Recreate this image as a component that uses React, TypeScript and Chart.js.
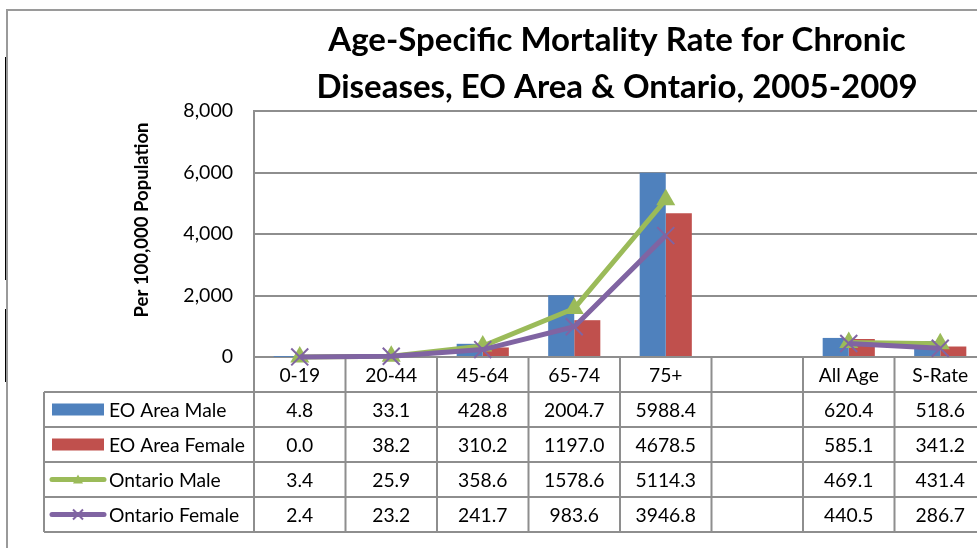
import React, { useEffect, useRef } from 'react';
import { Chart, registerables } from 'chart.js';

Chart.register(...registerables);

const titleLines = ['Age-Specific Mortality Rate for Chronic', 'Diseases, EO Area & Ontario, 2005-2009'];
const yAxisTitle = 'Per 100,000 Population';
const categories = ['0-19', '20-44', '45-64', '65-74', '75+', '', 'All Age', 'S-Rate'];
const eoMale = [4.8, 33.1, 428.8, 2004.7, 5988.4, null, 620.4, 518.6];
const eoFemale = [0.0, 38.2, 310.2, 1197.0, 4678.5, null, 585.1, 341.2];
const ontarioMale = [3.4, 25.9, 358.6, 1578.6, 5114.3, null, 469.1, 431.4];
const ontarioFemale = [2.4, 23.2, 241.7, 983.6, 3946.8, null, 440.5, 286.7];
const seriesNames = ['EO Area Male', 'EO Area Female', 'Ontario Male', 'Ontario Female'];
const yMin = 0;
const yMax = 8000;
const yStep = 2000;

const BLUE = '#4F81BD';
const RED = '#C0504D';
const GREEN = '#9BBB59';
const PURPLE = '#8064A2';
const GRID = '#8e8e8e';
const FONT = 'Lato, Carlito, Calibri, sans-serif';

const seriesData = [eoMale, eoFemale, ontarioMale, ontarioFemale];

function drawTriangle(ctx: CanvasRenderingContext2D, x: number, y: number, r: number, color: string) {
  ctx.beginPath();
  ctx.moveTo(x, y - r);
  ctx.lineTo(x + r, y + r * 0.8);
  ctx.lineTo(x - r, y + r * 0.8);
  ctx.closePath();
  ctx.fillStyle = color;
  ctx.fill();
}

function drawCross(ctx: CanvasRenderingContext2D, x: number, y: number, r: number, color: string) {
  ctx.beginPath();
  ctx.moveTo(x - r, y - r);
  ctx.lineTo(x + r, y + r);
  ctx.moveTo(x + r, y - r);
  ctx.lineTo(x - r, y + r);
  ctx.strokeStyle = color;
  ctx.lineWidth = 2;
  ctx.stroke();
}

const tablePlugin = {
  id: 'excelTable',
  beforeDatasetsDraw(chart: any) {
    const { ctx, chartArea } = chart;
    const n = categories.length;
    const colW = (chartArea.right - chartArea.left) / n;
    const top = chartArea.bottom;
    const rowH = 35;
    const tableLeft = 44;
    const nRows = seriesNames.length;
    const bottom = top + rowH * (nRows + 1);
    ctx.save();

    // outer frame artifacts
    ctx.strokeStyle = '#9a9a9a';
    ctx.lineWidth = 2;
    ctx.beginPath();
    ctx.moveTo(6, 10);
    ctx.lineTo(chart.width, 10);
    ctx.moveTo(7, 10);
    ctx.lineTo(7, chart.height);
    ctx.stroke();
    ctx.strokeStyle = '#000';
    ctx.lineWidth = 1;
    ctx.beginPath();
    ctx.moveTo(5.5, 57);
    ctx.lineTo(5.5, 280);
    ctx.moveTo(5.5, 309);
    ctx.lineTo(5.5, 382);
    ctx.stroke();

    // title
    ctx.fillStyle = '#000';
    ctx.font = `bold 33px ${FONT}`;
    ctx.textAlign = 'center';
    ctx.textBaseline = 'alphabetic';
    ctx.fillText(titleLines[0], 617, 51);
    ctx.fillText(titleLines[1], 617, 98);

    // y title
    ctx.save();
    ctx.translate(142, 220);
    ctx.rotate(-Math.PI / 2);
    ctx.font = `bold 18.5px ${FONT}`;
    ctx.textBaseline = 'middle';
    ctx.fillText(yAxisTitle, 0, 0);
    ctx.restore();

    // table grid
    ctx.strokeStyle = GRID;
    ctx.lineWidth = 2;
    ctx.beginPath();
    for (let r = 0; r <= nRows + 1; r++) {
      const y = top + r * rowH;
      ctx.moveTo(r === 0 ? chartArea.left : tableLeft, y);
      ctx.lineTo(chartArea.right, y);
    }
    ctx.moveTo(tableLeft, top + rowH);
    ctx.lineTo(tableLeft, bottom);
    for (let c = 0; c <= n; c++) {
      const x = chartArea.left + c * colW;
      ctx.moveTo(x, top);
      ctx.lineTo(x, bottom);
    }
    ctx.stroke();

    // text
    ctx.fillStyle = '#000';
    ctx.font = `19.3px ${FONT}`;
    ctx.textBaseline = 'middle';
    ctx.textAlign = 'center';
    categories.forEach((cat, i) => {
      const cx = chartArea.left + (i + 0.5) * colW;
      ctx.fillText(cat, cx, top + rowH / 2 + 1);
    });
    seriesData.forEach((vals, r) => {
      const cy = top + (r + 1.5) * rowH + 1;
      vals.forEach((v, i) => {
        if (v === null) return;
        const cx = chartArea.left + (i + 0.5) * colW;
        ctx.fillText(v.toFixed(1), cx, cy);
      });
    });

    // legend keys
    ctx.textAlign = 'left';
    seriesNames.forEach((name, r) => {
      const cy = top + (r + 1.5) * rowH;
      if (r < 2) {
        ctx.fillStyle = r === 0 ? BLUE : RED;
        ctx.fillRect(52, cy - 6, 52, 12);
      } else {
        const color = r === 2 ? GREEN : PURPLE;
        ctx.strokeStyle = color;
        ctx.lineWidth = 5;
        ctx.lineCap = 'round';
        ctx.beginPath();
        ctx.moveTo(52, cy);
        ctx.lineTo(104, cy);
        ctx.stroke();
        ctx.lineCap = 'butt';
        if (r === 2) drawTriangle(ctx, 78, cy, 5, color);
        else drawCross(ctx, 78, cy, 5, color);
      }
      ctx.fillStyle = '#000';
      ctx.fillText(name, 109, cy + 1);
    });

    ctx.restore();
  },
};

export default function App() {
  const canvasRef = useRef<HTMLCanvasElement | null>(null);

  useEffect(() => {
    const canvas = canvasRef.current;
    if (!canvas) return;
    const chart = new Chart(canvas, {
      type: 'bar',
      data: {
        labels: categories,
        datasets: [
          {
            type: 'line',
            label: seriesNames[2],
            data: ontarioMale,
            borderColor: GREEN,
            backgroundColor: GREEN,
            borderWidth: 5,
            pointStyle: 'triangle',
            pointRadius: 11,
            pointBorderWidth: 0,
            pointBackgroundColor: GREEN,
            tension: 0,
            spanGaps: false,
            clip: false,
            order: 1,
          } as any,
          {
            type: 'line',
            label: seriesNames[3],
            data: ontarioFemale,
            borderColor: PURPLE,
            backgroundColor: PURPLE,
            borderWidth: 5,
            pointStyle: 'crossRot',
            pointRadius: 12,
            pointBorderWidth: 2,
            pointBorderColor: PURPLE,
            tension: 0,
            spanGaps: false,
            clip: false,
            order: 0,
          } as any,
          {
            type: 'bar',
            label: seriesNames[0],
            data: eoMale,
            backgroundColor: BLUE,
            barPercentage: 1,
            categoryPercentage: 0.57,
            order: 3,
          },
          {
            type: 'bar',
            label: seriesNames[1],
            data: eoFemale,
            backgroundColor: RED,
            barPercentage: 1,
            categoryPercentage: 0.57,
            order: 3,
          },
        ],
      },
      options: {
        responsive: false,
        animation: false,
        devicePixelRatio: 1,
        layout: { padding: { left: 0, right: 13, top: 111, bottom: 191 } },
        plugins: {
          legend: { display: false },
          title: { display: false },
          tooltip: { enabled: false },
        },
        scales: {
          x: {
            display: false,
            offset: true,
          },
          y: {
            min: yMin,
            max: yMax,
            afterFit: (scale: any) => {
              scale.width = 254;
            },
            ticks: {
              stepSize: yStep,
              padding: 21,
              color: '#000',
              font: { family: FONT, size: 19.5 },
              callback: (v: any) => Number(v).toLocaleString('en-US'),
            },
            grid: {
              color: GRID,
              lineWidth: 2,
              drawTicks: false,
            },
            border: { color: GRID, width: 2 },
          },
        },
      },
      plugins: [tablePlugin],
    });
    return () => chart.destroy();
  }, []);

  return (
    <div style={{ position: 'fixed', left: 0, top: 0, width: 977, height: 548, overflow: 'hidden', background: '#fff' }}>
      <canvas ref={canvasRef} width={1000} height={548} style={{ width: 1000, height: 548, display: 'block' }} />
    </div>
  );
}
